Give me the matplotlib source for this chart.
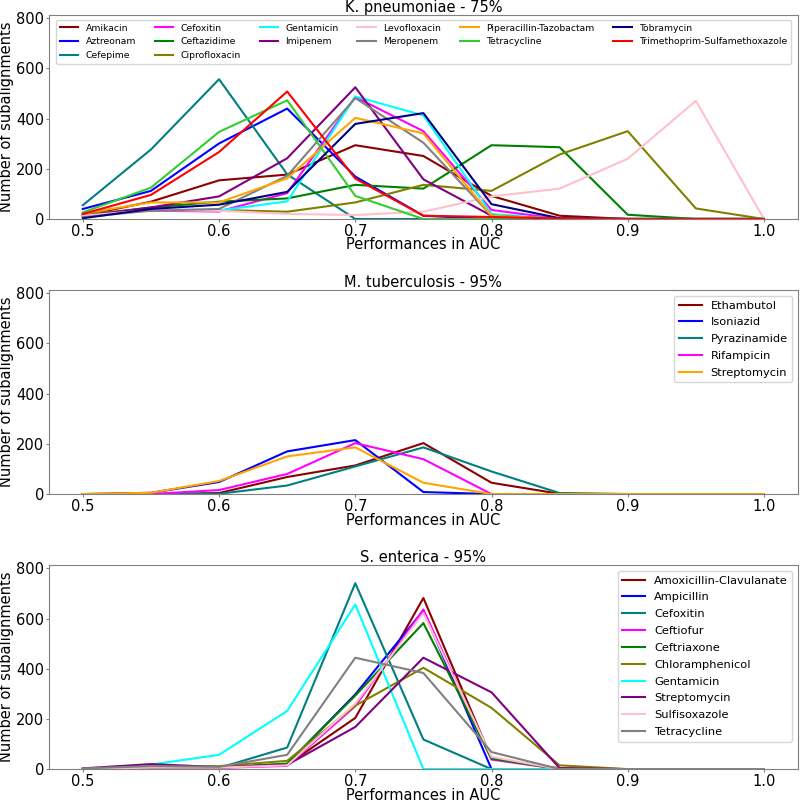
import matplotlib
matplotlib.use('Agg')
import matplotlib.pyplot as plt

auc = [0.5, 0.55, 0.6, 0.65, 0.7, 0.75, 0.8, 0.85, 0.9, 0.95, 1.0]

# K. pneumoniae - 75%
kp_names = ['Amikacin', 'Aztreonam', 'Cefepime', 'Cefoxitin', 'Ceftazidime', 'Ciprofloxacin',
            'Gentamicin', 'Imipenem', 'Levofloxacin', 'Meropenem', 'Piperacillin-Tazobactam',
            'Tetracycline', 'Tobramycin', 'Trimethoprim-Sulfamethoxazole']
kp_colors = ['darkred', 'blue', 'teal', 'magenta', 'green', 'olive', 'cyan', 'purple',
             'pink', 'gray', 'orange', 'limegreen', 'navy', 'red']
kp_values = [
    [13, 69, 154, 177, 294, 251, 92, 13, 0, 0, 0],
    [40, 112, 301, 440, 169, 13, 0, 0, 0, 0, 0],
    [55, 277, 557, 178, 0, 0, 0, 0, 0, 0, 0],
    [20, 33, 30, 103, 486, 350, 36, 0, 0, 0, 0],
    [13, 46, 69, 82, 136, 121, 294, 286, 17, 0, 0],
    [22, 36, 36, 29, 66, 136, 112, 257, 350, 42, 0],
    [10, 37, 34, 70, 488, 413, 20, 0, 0, 0, 0],
    [12, 46, 90, 242, 525, 158, 13, 0, 0, 0, 0],
    [13, 36, 33, 20, 16, 29, 90, 121, 240, 471, 0],
    [7, 33, 40, 172, 482, 304, 13, 0, 0, 0, 0],
    [22, 66, 66, 162, 403, 341, 13, 0, 0, 0, 0],
    [26, 125, 347, 473, 92, 0, 0, 0, 0, 0, 0],
    [3, 40, 57, 108, 379, 422, 59, 3, 0, 0, 0],
    [20, 96, 267, 508, 161, 13, 8, 2, 0, 0, 0],
]

# M. tuberculosis - 95%
mt_names = ['Ethambutol', 'Isoniazid', 'Pyrazinamide', 'Rifampicin', 'Streptomycin']
mt_colors = ['darkred', 'blue', 'teal', 'magenta', 'orange']
mt_values = [
    [0, 0, 4, 68, 114, 203, 45, 1, 0, 0, 0],
    [0, 5, 48, 170, 215, 8, 0, 0, 0, 0, 0],
    [0, 0, 1, 34, 110, 186, 90, 4, 0, 0, 0],
    [0, 0, 16, 80, 203, 139, 0, 0, 0, 0, 0],
    [0, 5, 52, 150, 186, 45, 0, 0, 0, 0, 0],
]

# S. enterica - 95%
se_names = ['Amoxicillin-Clavulanate', 'Ampicillin', 'Cefoxitin', 'Ceftiofur', 'Ceftriaxone',
            'Chloramphenicol', 'Gentamicin', 'Streptomycin', 'Sulfisoxazole', 'Tetracycline']
se_colors = ['darkred', 'blue', 'teal', 'magenta', 'green', 'olive', 'cyan', 'purple',
             'pink', 'gray']
se_values = [
    [0, 8, 7, 17, 204, 682, 42, 3, 0, 0, 0],
    [0, 5, 6, 20, 298, 632, 0, 0, 0, 0, 0],
    [0, 10, 5, 86, 741, 118, 0, 0, 0, 0, 0],
    [2, 6, 5, 13, 251, 636, 38, 0, 0, 0, 0],
    [0, 6, 7, 22, 293, 582, 42, 0, 0, 0, 0],
    [0, 8, 12, 33, 253, 404, 244, 15, 0, 0, 0],
    [0, 18, 57, 232, 656, 0, 0, 0, 0, 0, 0],
    [3, 20, 8, 17, 168, 444, 306, 4, 0, 0, 0],
    [0, 6, 6, 15, 261, 622, 49, 0, 0, 0, 0],
    [3, 12, 9, 57, 444, 383, 68, 0, 0, 0, 0],
]

panels = [
    ('K. pneumoniae - 75%', kp_names, kp_colors, kp_values),
    ('M. tuberculosis - 95%', mt_names, mt_colors, mt_values),
    ('S. enterica - 95%', se_names, se_colors, se_values),
]

fig, axes = plt.subplots(3, 1, figsize=(8, 8.02), dpi=100)
plt.subplots_adjust(left=0.061, right=0.9975, top=0.981, bottom=0.041, hspace=0.35)

for ax, (title, names, colors, values) in zip(axes, panels):
    for name, color, vals in zip(names, colors, values):
        ax.plot(auc, vals, color=color, linewidth=1.5, label=name)
    ax.set_title(title, fontsize=10.5, pad=1.5)
    ax.set_xlabel('Performances in AUC', fontsize=10.5, labelpad=-1)
    ax.set_ylabel('Number of subalignments', fontsize=10.5)
    ax.yaxis.set_label_coords(-0.046, 0.5)
    ax.set_ylim(0, 812)
    ax.set_xticks([0.5, 0.6, 0.7, 0.8, 0.9, 1.0])
    ax.set_yticks([0, 200, 400, 600, 800])
    ax.tick_params(labelsize=10.5, color='gray', length=2.5, pad=1)
    for sp in ax.spines.values():
        sp.set_color('gray')

axes[0].legend(ncol=6, loc='upper center', fontsize=6.7)
axes[1].legend(loc='upper right', fontsize=8.2, labelspacing=0.6)
axes[2].legend(loc='upper right', fontsize=8.2, labelspacing=0.6)

plt.savefig('out.png', dpi=100)
